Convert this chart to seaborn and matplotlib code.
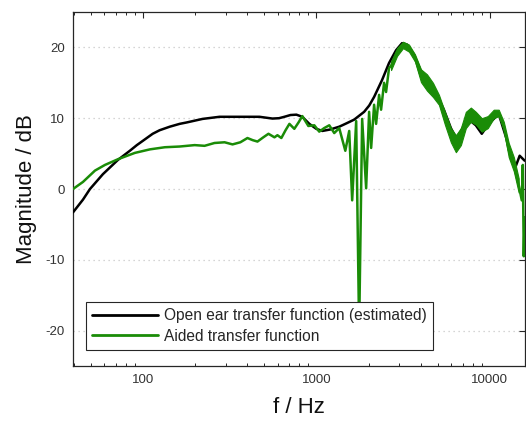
import numpy as np
import pandas as pd
import matplotlib
matplotlib.use("Agg")
import matplotlib.pyplot as plt
from matplotlib.ticker import FixedLocator, NullFormatter, LogLocator
import seaborn as sns

# ---- data ----
open_freq = [39.6, 45.2, 49.6, 58.9, 71.8, 84.2, 92.4, 100, 114, 125, 143, 163, 179, 221,
             277, 361, 470, 559, 610, 655, 710, 768, 830, 912, 1000, 1083, 1200, 1356,
             1500, 1654, 1887, 2020, 2154, 2395, 2627, 2883, 3121, 3334, 3658, 4013,
             4461, 4894, 5439, 5968, 6462, 7090, 7573, 8310, 8995, 9869, 11260, 12520,
             13380, 14110, 14870, 15890]
open_db = [-3.3, -1.5, 0.0, 2.1, 4.1, 5.4, 6.2, 6.8, 7.8, 8.3, 8.8, 9.2, 9.4, 9.9,
           10.2, 10.2, 10.2, 9.95, 10.0, 10.2, 10.45, 10.5, 10.2, 9.2, 8.5, 8.2, 8.4, 8.8,
           9.3, 9.8, 10.9, 11.8, 13.0, 15.4, 17.8, 19.6, 20.6, 20.4, 19.0, 16.6,
           15.0, 13.6, 11.2, 8.6, 7.0, 9.0, 9.8, 9.0, 7.8, 9.2, 10.6, 7.0,
           4.0, 3.2, 4.7, 4.0]

aided_freq = [39.6, 45.2, 53.0, 60.5, 71.8, 90.0, 110, 134, 163, 199, 227, 259, 296, 329,
              365, 401, 430, 458, 495, 530, 574, 597, 629, 665, 700, 747, 790, 831, 900,
              974, 1040, 1110, 1188, 1269, 1356, 1470, 1548, 1610, 1698, 1766, 1838,
              1938, 2016, 2071, 2154, 2212, 2302, 2363, 2459, 2525, 2627, 2698, 2921,
              3162, 3422, 3707, 4013, 4345, 4704, 5093, 5512, 5968, 6377, 6813, 7279,
              7779, 8310, 8995, 9739, 10540, 11260, 12040, 12860, 13760, 14680, 15290,
              15500, 15700, 15890]
aided_db = [0.0, 1.0, 2.6, 3.4, 4.2, 5.1, 5.6, 5.9, 6.0, 6.2, 6.1, 6.5, 6.6, 6.3,
            6.6, 7.2, 6.9, 6.7, 7.3, 7.8, 7.3, 7.6, 7.2, 8.3, 9.2, 8.5, 9.4, 10.3, 8.9,
            9.0, 8.1, 8.6, 9.0, 7.9, 8.6, 5.4, 8.2, -1.6, 9.6, -20.0, 9.9,
            0.1, 10.9, 5.8, 11.9, 9.2, 13.3, 11.2, 15.0, 13.7, 17.1, 17.4, 19.3,
            20.3, 19.9, 18.5, 15.9, 15.0, 14.0, 12.6, 10.0, 7.6, 6.4, 7.4, 9.7,
            10.5, 10.0, 9.0, 9.4, 10.6, 10.7, 8.9, 5.5, 3.4, 0.6, -1.6,
            3.4, -9.5, -4.0]

# ripple envelope of the aided response (fine fast oscillation band)
band_freq = [2698, 2921, 3162, 3422, 3707, 4013, 4345, 4704, 5093, 5512, 5968, 6377,
             6813, 7279, 7779, 8310, 8995, 9739, 10540, 11260, 12040, 12860, 13760, 14680]
band_low = [16.8, 18.8, 19.9, 19.4, 18.0, 15.1, 13.9, 13.0, 11.9, 9.1, 6.6, 5.2,
            6.2, 8.6, 9.5, 9.1, 8.1, 8.6, 10.0, 10.3, 8.3, 4.5, 2.5, -0.5]
band_high = [18.0, 19.9, 20.8, 20.4, 19.0, 16.9, 16.2, 15.0, 13.3, 10.9, 8.6, 7.6,
             8.6, 10.9, 11.5, 10.9, 10.0, 10.3, 11.2, 11.2, 9.5, 6.5, 4.5, 1.5]

x_ticks = [100, 1000, 10000]
x_tick_labels = ["100", "1000", "10000"]
y_ticks = [-20, -10, 0, 10, 20]
y_tick_labels = ["-20", "-10", "0", "10", "20"]

series_names = ["Open ear transfer function (estimated)", "Aided transfer function"]

# ---- style ----
sns.set_style("white")
plt.rcParams["font.family"] = ["Liberation Sans", "DejaVu Sans"]

green = "#1a8c07"
black = "#000000"

fig = plt.figure(figsize=(5.26, 4.21), dpi=100)
ax = fig.add_axes([0.1388, 0.1306, 0.8592, 0.8409])

df_open = pd.DataFrame({"f": open_freq, "m": open_db})
df_aid = pd.DataFrame({"f": aided_freq, "m": aided_db})

sns.lineplot(data=df_open, x="f", y="m", ax=ax, color=black, linewidth=1.8,
             estimator=None, sort=False, label=series_names[0], zorder=3)
ax.fill_between(band_freq, band_low, band_high, color=green, linewidth=0.8,
                edgecolor=green, zorder=4)
sns.lineplot(data=df_aid, x="f", y="m", ax=ax, color=green, linewidth=1.8,
             estimator=None, sort=False, label=series_names[1], zorder=5)

ax.set_xscale("log")
ax.set_xlim(39.6, 15950)
ax.set_ylim(-25, 25)

ax.xaxis.set_major_locator(FixedLocator(x_ticks))
ax.set_xticklabels(x_tick_labels)
ax.xaxis.set_minor_locator(LogLocator(base=10, subs=np.arange(2, 10)))
ax.xaxis.set_minor_formatter(NullFormatter())
ax.set_yticks(y_ticks)
ax.set_yticklabels(y_tick_labels)

ax.tick_params(axis="both", which="major", direction="in", length=4.5, width=0.8,
               top=True, right=True, labelsize=9.5, labelcolor="#333333",
               color="#262626", pad=6)
ax.tick_params(axis="x", which="minor", direction="in", length=2.5, width=0.7,
               top=True, bottom=True, color="#262626")

ax.yaxis.grid(True, linestyle=(0, (1, 3)), color="#c8c8c8", linewidth=0.9)
ax.xaxis.grid(False)
ax.set_axisbelow(True)

for s in ax.spines.values():
    s.set_color("#262626")
    s.set_linewidth(0.9)

ax.set_xlabel("f / Hz", fontsize=16, color="#111111", labelpad=8)
ax.set_ylabel("Magnitude / dB", fontsize=16, color="#111111", labelpad=6)

leg = ax.legend(loc="lower left", bbox_to_anchor=(0.0287, 0.045), borderaxespad=0,
                fontsize=11.2, frameon=True, fancybox=False, framealpha=1,
                edgecolor="#262626", handlelength=4.2, handletextpad=0.4,
                labelspacing=0.35, borderpad=0.4)
leg.get_frame().set_linewidth(0.8)
for line in leg.get_lines():
    line.set_linewidth(2.0)

fig.savefig("out.png", dpi=100)
